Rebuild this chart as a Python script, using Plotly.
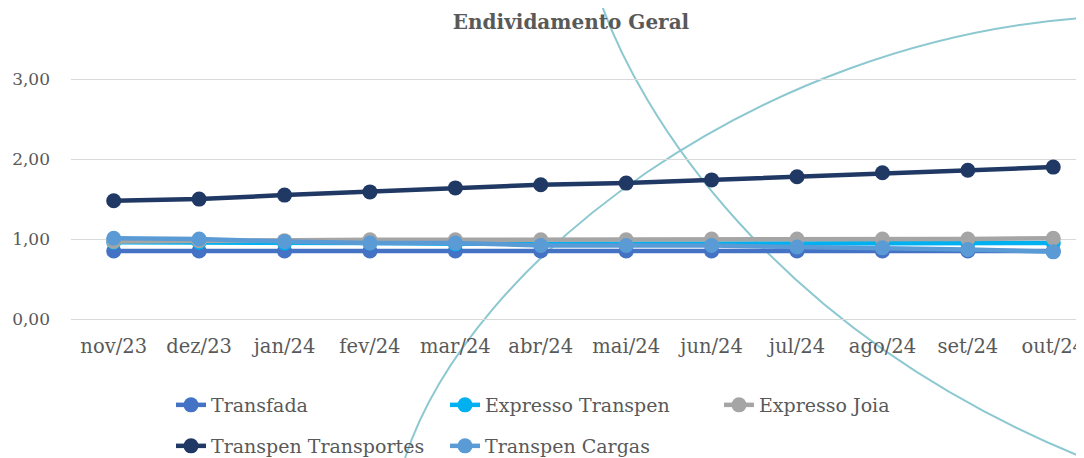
import plotly.graph_objects as go

months = ["nov/23", "dez/23", "jan/24", "fev/24", "mar/24", "abr/24",
          "mai/24", "jun/24", "jul/24", "ago/24", "set/24", "out/24"]

transfada = [0.85, 0.85, 0.85, 0.85, 0.85, 0.85, 0.85, 0.85, 0.85, 0.85, 0.85, 0.85]
expresso_transpen = [0.96, 0.96, 0.95, 0.95, 0.94, 0.94, 0.94, 0.94, 0.95, 0.95, 0.95, 0.95]
expresso_joia = [0.97, 0.98, 0.98, 0.99, 0.99, 0.99, 0.99, 1.00, 1.00, 1.00, 1.00, 1.01]
transpen_transportes = [1.48, 1.50, 1.55, 1.59, 1.64, 1.68, 1.70, 1.74, 1.78, 1.83, 1.86, 1.90]
transpen_cargas = [1.01, 1.00, 0.97, 0.95, 0.95, 0.92, 0.92, 0.92, 0.90, 0.89, 0.87, 0.84]

series = [
    ("Transfada", transfada, "#4472C4", "legend"),
    ("Expresso Transpen", expresso_transpen, "#00B0F0", "legend"),
    ("Expresso Joia", expresso_joia, "#A5A5A5", "legend"),
    ("Transpen Transportes", transpen_transportes, "#203864", "legend2"),
    ("Transpen Cargas", transpen_cargas, "#5B9BD5", "legend2"),
]

# page body has an 8px margin; figure sized to fill the rest of the window
OFF = 8
W, H = 1076, 450
ML, MR, MT, MB = 63, 0, 0, 139
PW, PH = W - ML - MR, H - MT - MB

def px(x):
    # screenshot pixel x -> paper x
    return (x - OFF - ML) / PW

def py(y):
    # screenshot pixel y -> paper y
    return (H - MB - (y - OFF)) / PH

def bez(p0, c1, c2, p1):
    return "M {} {} C {} {}, {} {}, {} {}".format(
        px(p0[0]), py(p0[1]), px(c1[0]), py(c1[1]),
        px(c2[0]), py(c2[1]), px(p1[0]), py(p1[1]))

fig = go.Figure()
for name, vals, color, lg in series:
    fig.add_trace(go.Scatter(
        x=months, y=vals, name=name, mode="lines+markers",
        line=dict(color=color, width=4.5),
        marker=dict(color=color, size=15),
        legend=lg,
    ))

font = "DejaVu Serif"
grey = "#595959"
fig.update_layout(
    width=W, height=H,
    margin=dict(l=ML, r=MR, t=MT, b=MB, autoexpand=False),
    paper_bgcolor="white", plot_bgcolor="white",
    title=dict(text="<b>Endividamento Geral</b>", x=(571 - OFF) / W, xanchor="center",
               y=1 - (22 - OFF) / H, yanchor="middle",
               font=dict(family=font, size=20, color=grey)),
    xaxis=dict(range=[-0.5, 11.36], showgrid=False, showline=False, zeroline=False,
               automargin=False,
               tickfont=dict(family=font, size=19.5, color=grey),
               ticks="", ticklabelstandoff=13),
    yaxis=dict(range=[0, 3.89], tickvals=[0, 1, 2, 3],
               ticktext=["0,00", "1,00", "2,00", "3,00"],
               automargin=False,
               showgrid=True, gridcolor="#D9D9D9", gridwidth=1.3,
               zeroline=True, zerolinecolor="#D9D9D9", zerolinewidth=1.3,
               showline=False,
               tickfont=dict(family=font, size=17, color=grey),
               ticks="", ticklabelstandoff=20),
    legend=dict(orientation="h", x=px(171), y=py(386), xanchor="left", yanchor="top",
                entrywidth=229, entrywidthmode="pixels",
                font=dict(family=font, size=19, color=grey),
                bgcolor="rgba(0,0,0,0)"),
    legend2=dict(orientation="h", x=px(171), y=py(427), xanchor="left", yanchor="top",
                 entrywidth=229, entrywidthmode="pixels",
                 font=dict(family=font, size=19, color=grey),
                 bgcolor="rgba(0,0,0,0)"),
    showlegend=True,
    shapes=[
        dict(type="path", xref="paper", yref="paper", layer="below",
             path=bez((600, 0), (638, 110), (770, 330), (1084, 458)),
             line=dict(color="#8CC8D0", width=2)),
        dict(type="path", xref="paper", yref="paper", layer="below",
             path=bez((405, 458), (470, 260), (760, 40), (1084, 18)),
             line=dict(color="#8CC8D0", width=2)),
    ],
)

fig.write_html("out.html")
